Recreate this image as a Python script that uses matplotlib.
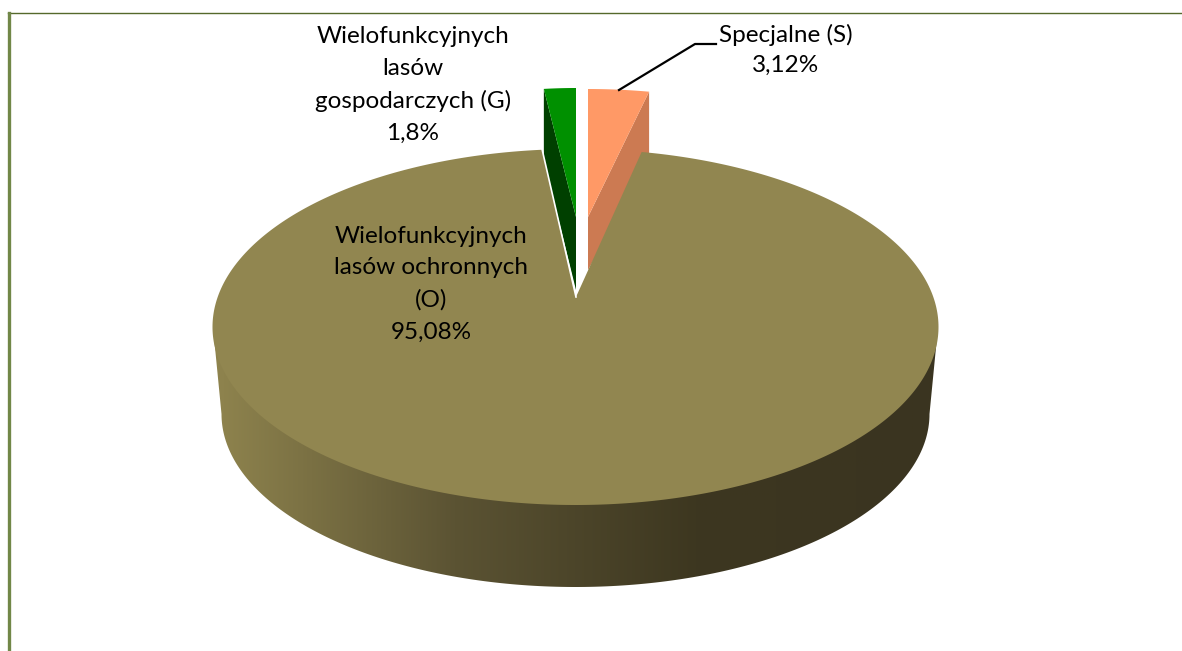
import numpy as np
import matplotlib
matplotlib.use("Agg")
import matplotlib.pyplot as plt
from matplotlib.colors import LinearSegmentedColormap
from matplotlib.patches import Polygon

plt.rcParams['font.family'] = ['Lato', 'DejaVu Sans']

# shares in percent
share_S = 3.12
share_G = 1.8
share_O = 95.08

label_S = "Specjalne (S)\n3,12%"
label_G = "Wielofunkcyjnych\nlasów\ngospodarczych (G)\n1,8%"
label_O = "Wielofunkcyjnych\nlasów ochronnych\n(O)\n95,08%"

color_O = "#918650"
color_S = "#FF9966"
color_S_dark = "#CC7A52"
color_G = "#009000"
color_G_dark = "#004000"

side_stops = ["#8F844E", "#5B5333", "#3D3720", "#3A3420"]


def arc(cx, cy, rx, ry, start, end, n=200):
    # angles in degrees, clockwise from 12 o'clock, y axis points down
    t = np.radians(np.linspace(start, end, n))
    return np.column_stack([cx + rx * np.sin(t), cy - ry * np.cos(t)])


fig = plt.figure(figsize=(11.82, 6.51), dpi=100)
ax = fig.add_axes([0, 0, 1, 1])
ax.axis("off")

# back slices look narrower because of the perspective
squeeze = 0.89
span_S = share_S * 3.6 * squeeze
span_G = share_G * 3.6 * squeeze

# frame
ax.plot([8, 1182], [13, 13], color="#55692B", lw=1.0)
ax.plot([8.5, 8.5], [13, 651], color="#718748", lw=2.4)

# Specjalne slice
top_S = arc(588, 89 + 178, 352, 178, 0, span_S)
apex_S = [588, 217]
ax.add_patch(Polygon([apex_S, top_S[-1], [top_S[-1][0], 160], [588, 270]],
                     closed=True, fc=color_S_dark, ec="none", zorder=2))
ax.add_patch(Polygon(np.vstack([[apex_S], top_S]), closed=True, fc=color_S, ec="none", zorder=3))

# Wielofunkcyjnych lasow gospodarczych slice
top_G = arc(576, 88 + 178, 320, 178, -span_G, 0)
apex_G = [576, 217]
ax.add_patch(Polygon([top_G[0], apex_G, [576, 290], [top_G[0][0], 160]],
                     closed=True, fc=color_G_dark, ec="none", zorder=2))
ax.add_patch(Polygon(np.vstack([[apex_G], top_G]), closed=True, fc=color_G, ec="none", zorder=3))

# big slice, side wall with the gradient
bottom = arc(575.5, 414, 354, 173, 270, 90)
side = np.vstack([[[213, 327]], bottom, [[938, 327]]])
cmap = LinearSegmentedColormap.from_list("side", side_stops)
grad = ax.imshow(np.linspace(0, 1, 256).reshape(1, -1), cmap=cmap, aspect="auto",
                 extent=[213, 938, 590, 320], zorder=4)
side_patch = Polygon(side, closed=True, fc="none", ec="none", transform=ax.transData)
ax.add_patch(side_patch)
grad.set_clip_path(side_patch)

# big slice, top face
apex_O = [576, 297]
start_O = span_S + 0.5
end_O = 360 - span_G + 0.5
top_O = arc(575.5, 327, 363, 178, start_O, end_O, 600)
ax.add_patch(Polygon(np.vstack([[apex_O], top_O]), closed=True, fc=color_O, ec="none", zorder=5))
ax.plot([top_O[-1][0], apex_O[0]], [top_O[-1][1], apex_O[1]], color="white", lw=1.2, zorder=6)

# leader line of the S label
ax.plot([716, 695, 619], [44, 44, 90], color="black", lw=1.6, zorder=7)

# labels
text_size = 17.5
ax.text(413, 85, label_G, ha="center", va="center", fontsize=text_size, linespacing=1.63, color="black", zorder=8)
ax.text(786, 50, label_S, ha="center", va="center", fontsize=text_size, linespacing=1.5, color="black", zorder=8)
ax.text(431, 284, label_O, ha="center", va="center", fontsize=text_size, linespacing=1.63, color="black", zorder=8)

ax.set_xlim(0, 1182)
ax.set_ylim(651, 0)

fig.savefig("out.png", dpi=100)
plt.close()
